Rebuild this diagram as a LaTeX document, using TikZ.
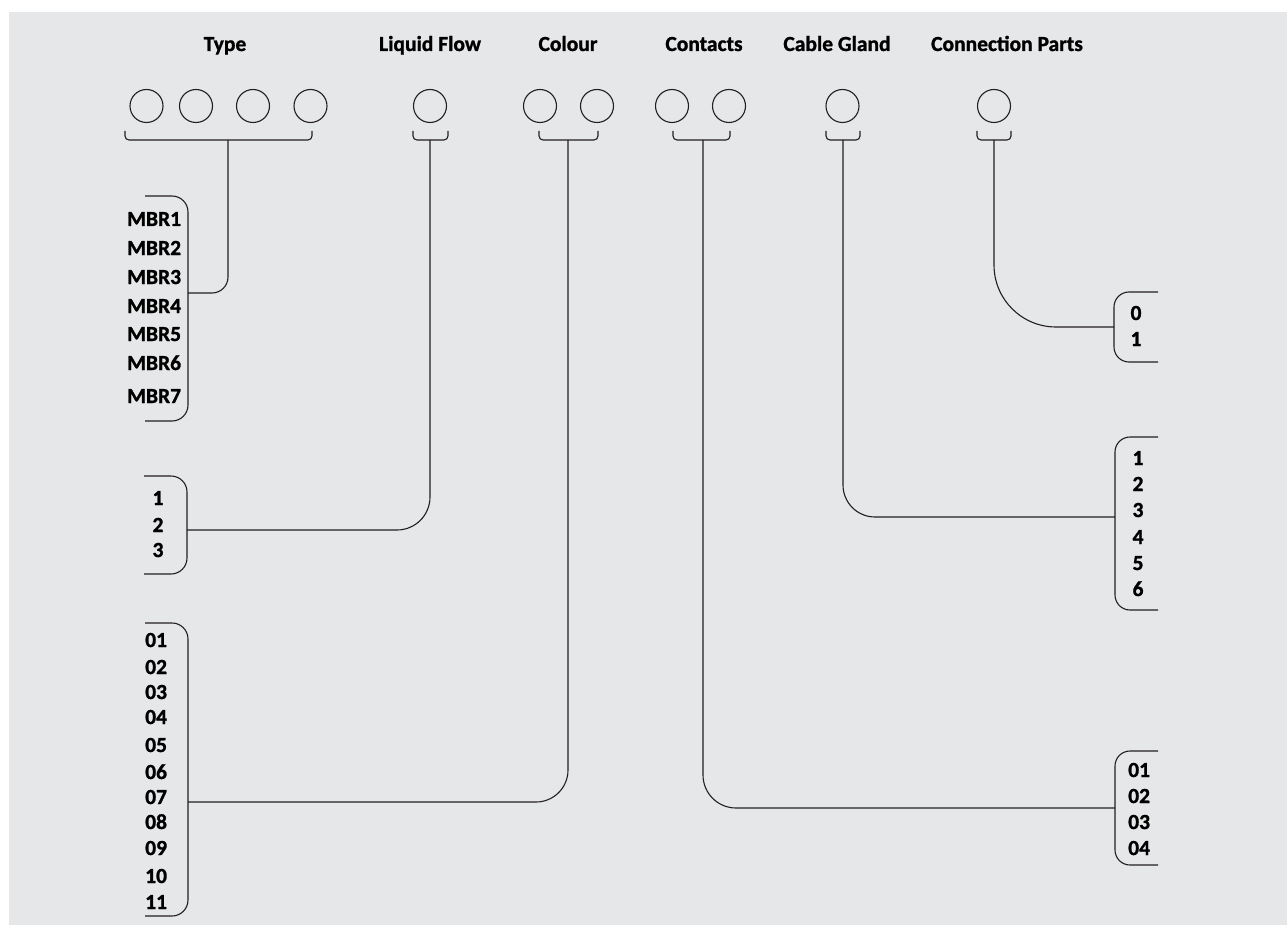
\documentclass[tikz,border=0pt]{standalone}
\usepackage{fontspec}
\setmainfont{Carlito}[BoldFeatures={FakeBold=1.2}]
\definecolor{panel}{HTML}{E6E7E9}
\definecolor{ink}{HTML}{231F20}
\tikzset{
  lbl/.style={font=\bfseries\fontsize{21.5}{24}\selectfont, inner sep=0pt, text=black},
  head/.style={lbl, anchor=base},
  item/.style={lbl, anchor=base west},
  itemc/.style={lbl, anchor=base},
  slot/.style={circle, draw=ink, line width=1.1pt, minimum size=33pt, inner sep=0pt},
  wire/.style={draw=ink, line width=1.1pt},
}
\begin{document}
\begin{tikzpicture}[x=1pt, y=-1pt]
\useasboundingbox (0,0) rectangle (1287,925);
\fill[panel] (9,12) rectangle (1287,925);

% column headings
\node[head] (hType)   at (225,51)  {Type};
\node[head] (hFlow)   at (430,51)  {Liquid Flow};
\node[head] (hColour) at (568,51)  {Colour};
\node[head] (hCont)   at (704,51)  {Contacts};
\node[head] (hGland)  at (837,51)  {Cable Gland};
\node[head] (hConn)   at (1007,51) {Connection Parts};

% code position slots
\node[slot] (t1) at (146.5,106) {};
\node[slot] (t2) at (196,106) {};
\node[slot] (t3) at (253,106) {};
\node[slot] (t4) at (310.5,106) {};
\node[slot] (f1) at (430,106) {};
\node[slot] (c1) at (540,106) {};
\node[slot] (c2) at (597,106) {};
\node[slot] (k1) at (672,106) {};
\node[slot] (k2) at (729,106) {};
\node[slot] (g1) at (842.5,106) {};
\node[slot] (p1) at (994,106) {};

% small brackets under the slots
\draw[wire, rounded corners=4pt] (125,131) -- (125,140) -- (312,140) -- (312,131);
\draw[wire, rounded corners=4pt] (413,131) -- (413,140) -- (448,140) -- (448,131);
\draw[wire, rounded corners=4pt] (539,131) -- (539,140) -- (598,140) -- (598,131);
\draw[wire, rounded corners=4pt] (673,131) -- (673,140) -- (730,140) -- (730,131);
\draw[wire, rounded corners=4pt] (826,131) -- (826,140) -- (860,140) -- (860,131);
\draw[wire, rounded corners=4pt] (977,131) -- (977,140) -- (1011,140) -- (1011,131);

% stems leaving the brackets
\coordinate (sType)   at (228,140);
\coordinate (sFlow)   at (430,140);
\coordinate (sColour) at (568,140);
\coordinate (sCont)   at (703,140);
\coordinate (sGland)  at (843,140);
\coordinate (sConn)   at (994,140);

% option lists: Type
\draw[wire, rounded corners=16pt] (145,196) -- (188,196) -- (188,421) -- (145,421);
\coordinate (jType) at (188,293);
\node[item] (mbr1) at (127,226) {MBR1};
\node[item] (mbr2) at (127,255) {MBR2};
\node[item] (mbr3) at (127,284) {MBR3};
\node[item] (mbr4) at (127,313) {MBR4};
\node[item] (mbr5) at (127,341) {MBR5};
\node[item] (mbr6) at (127,370) {MBR6};
\node[item] (mbr7) at (127,403) {MBR7};

% option lists: Liquid Flow
\draw[wire, rounded corners=16pt] (144,476) -- (187,476) -- (187,574) -- (144,574);
\coordinate (jFlow) at (187,530);
\node[itemc] (fl1) at (158,505) {1};
\node[itemc] (fl2) at (158,532) {2};
\node[itemc] (fl3) at (158,557) {3};

% option lists: Colour
\draw[wire, rounded corners=16pt] (145,623) -- (188,623) -- (188,916) -- (145,916);
\coordinate (jColour) at (188,802);
\foreach \n/\y in {01/647,02/674,03/699,04/724,05/752,06/779,07/804,08/829,09/855,10/883,11/909}
  \node[item] (col\n) at (145,\y) {\n};

% option lists: Connection Parts
\draw[wire, rounded corners=15pt] (1158,292) -- (1114,292) -- (1114,362) -- (1158,362);
\coordinate (jConn) at (1114,327);
\node[itemc] (cp0) at (1136,320) {0};
\node[itemc] (cp1) at (1136,346) {1};

% option lists: Cable Gland
\draw[wire, rounded corners=15pt] (1158,437) -- (1115,437) -- (1115,610) -- (1158,610);
\coordinate (jGland) at (1115,517);
\foreach \n/\y in {1/465,2/491,3/517,4/544,5/570,6/596}
  \node[itemc] (cg\n) at (1138,\y) {\n};

% option lists: Contacts
\draw[wire, rounded corners=15pt] (1158,751) -- (1115,751) -- (1115,865) -- (1158,865);
\coordinate (jCont) at (1115,808);
\foreach \n/\y in {01/777,02/803,03/829,04/855}
  \node[item] (ct\n) at (1128,\y) {\n};

% connectors from each stem to its list
\draw[wire, rounded corners=16pt] (sType)   |- (jType);
\draw[wire, rounded corners=33pt] (sFlow)   |- (jFlow);
\draw[wire, rounded corners=32pt] (sColour) |- (jColour);
\draw[wire, rounded corners=33pt] (sCont)   |- (jCont);
\draw[wire, rounded corners=32pt] (sGland)  |- (jGland);
\draw[wire, rounded corners=62pt] (sConn)   |- (jConn);
\end{tikzpicture}
\end{document}
